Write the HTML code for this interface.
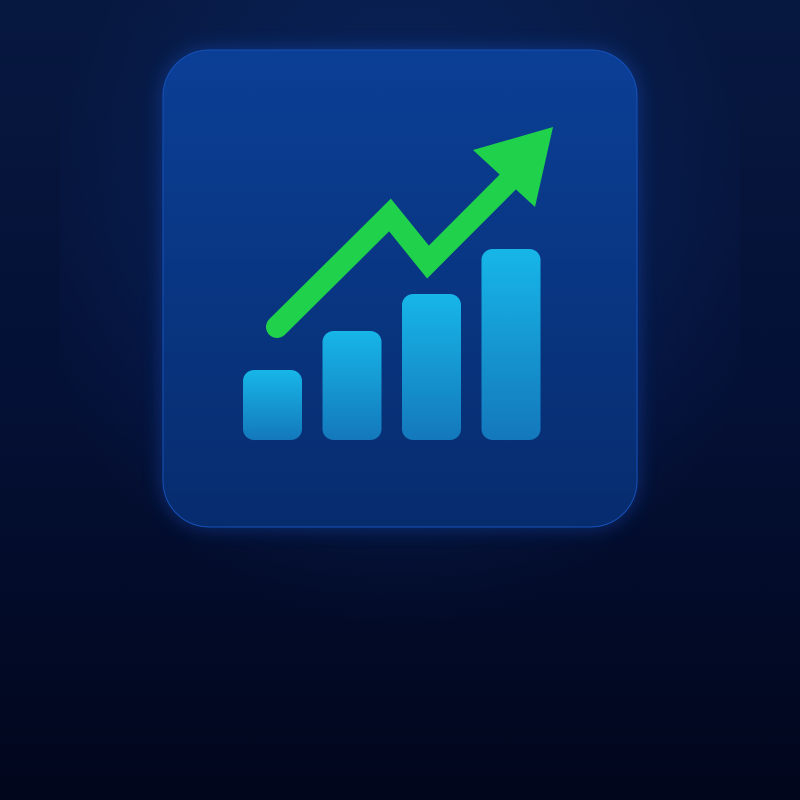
<!DOCTYPE html>
<html><head><meta charset="utf-8"><style>
html,body{margin:0;padding:0;width:800px;height:800px;overflow:hidden;background:#020a26;}
svg{display:block}
</style></head><body>
<svg id="chart" width="800" height="800" viewBox="0 0 800 800">
<defs>
<linearGradient id="bg" x1="0" y1="0" x2="0" y2="1">
<stop offset="0" stop-color="#071840"/><stop offset="0.5" stop-color="#041035"/><stop offset="1" stop-color="#01061c"/>
</linearGradient>
<radialGradient id="glow" cx="0.5" cy="0.4" r="0.55">
<stop offset="0" stop-color="#1248b0" stop-opacity="0.35"/><stop offset="1" stop-color="#1248b0" stop-opacity="0"/>
</radialGradient>
<linearGradient id="tile" x1="0" y1="0" x2="0" y2="1">
<stop offset="0" stop-color="#0b3f96"/><stop offset="1" stop-color="#072c6e"/>
</linearGradient>
<linearGradient id="bar" x1="0" y1="0" x2="0" y2="1">
<stop offset="0" stop-color="#17b6e8"/><stop offset="1" stop-color="#1478bc"/>
</linearGradient>
<filter id="blur"><feGaussianBlur stdDeviation="10"/></filter>
</defs>
<rect width="800" height="800" fill="url(#bg)"/>
<rect x="60" y="-40" width="680" height="700" fill="url(#glow)"/>
<rect x="163" y="50" width="474" height="477" rx="46" fill="#1a5ad0" opacity="0.45" filter="url(#blur)"/>
<rect x="163" y="50" width="474" height="477" rx="46" fill="url(#tile)" stroke="#1650b8" stroke-width="1"/>
<g id="bars"></g>
<g id="line"></g>
</svg>
<script>
const categories = ["b1","b2","b3","b4"];
const barValues = [70,109,146,191];
const linePoints = [[0,113],[1,225],[1.336,178],[2.06,260]];
const baseY = 440, x0 = 243, step = 79.5, bw = 59;
function xBar(i){return x0 + i*step;}
function yVal(v){return baseY - v;}
const ns="http://www.w3.org/2000/svg";
const gb=document.getElementById('bars');
barValues.forEach((v,i)=>{
  const r=document.createElementNS(ns,'rect');
  r.setAttribute('x',xBar(i));r.setAttribute('y',yVal(v));
  r.setAttribute('width',bw);r.setAttribute('height',v);
  r.setAttribute('rx',11);r.setAttribute('fill','url(#bar)');
  
  
  gb.appendChild(r);
});
const gl=document.getElementById('line');
function lx(t){return 277 + t*113;}
function ly(v){return baseY - v;}
const pts=linePoints.map(p=>[lx(p[0]),ly(p[1])]);
const pl=document.createElementNS(ns,'polyline');
pl.setAttribute('points',pts.map(p=>p.join(',')).join(' '));
pl.setAttribute('fill','none');pl.setAttribute('stroke','#1fd14b');
pl.setAttribute('stroke-width',22);pl.setAttribute('stroke-linecap','round');pl.setAttribute('stroke-linejoin','miter');


gl.appendChild(pl);
const head=document.createElementNS(ns,'polygon');
head.setAttribute('points',[[553,127],[473,150],[535,207]].map(p=>p.join(',')).join(' '));
head.setAttribute('fill','#1fd14b');


gl.appendChild(head);
</script>
</body></html>
